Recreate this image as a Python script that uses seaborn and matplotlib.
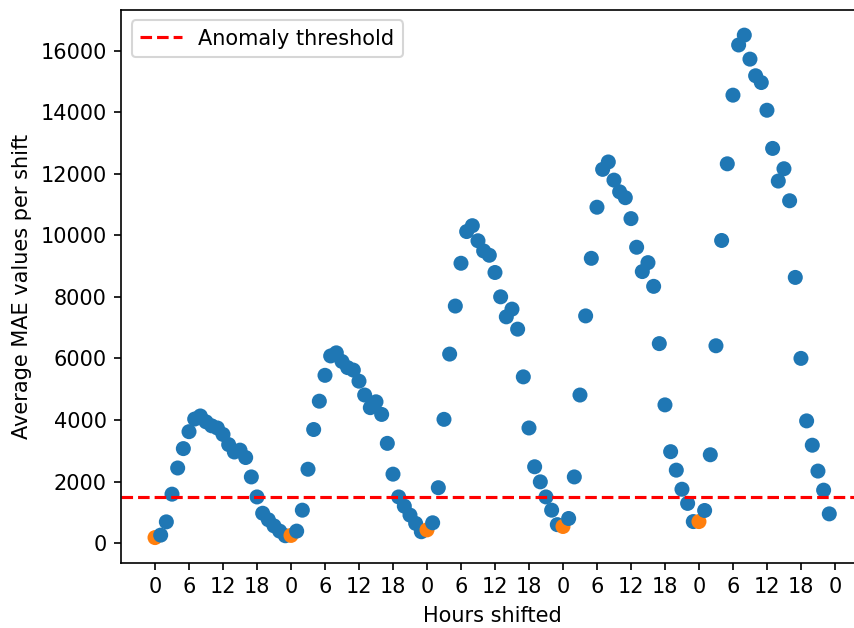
import matplotlib
matplotlib.use("Agg")
import matplotlib.pyplot as plt
import seaborn as sns
import pandas as pd

hours_shifted = list(range(120))
mae_values = [
    180, 260, 690, 1590, 2440, 3070, 3620, 4030, 4130, 3940, 3810, 3740,
    3530, 3200, 2960, 3020, 2780, 2150, 1500, 970, 760, 560, 390, 240,
    250, 390, 1070, 2400, 3690, 4610, 5450, 6080, 6180, 5900, 5700, 5620,
    5260, 4810, 4400, 4590, 4180, 3240, 2240, 1500, 1200, 910, 640, 370,
    430, 660, 1800, 4020, 6140, 7700, 9090, 10120, 10310, 9820, 9490, 9350,
    8790, 8000, 7350, 7600, 6950, 5400, 3740, 2480, 1990, 1500, 1070, 600,
    540, 800, 2150, 4810, 7380, 9250, 10910, 12140, 12380, 11790, 11410, 11220,
    10540, 9610, 8820, 9110, 8340, 6480, 4490, 2970, 2370, 1750, 1290, 700,
    700, 1060, 2870, 6410, 9830, 12320, 14550, 16180, 16500, 15720, 15180, 14960,
    14060, 12820, 11760, 12160, 11120, 8630, 6000, 3970, 3180, 2340, 1720, 950,
]
# points at a whole-day shift (orange) vs others (blue)
whole_day = ["day" if h % 24 == 0 else "other" for h in hours_shifted]
threshold = 1500
tick_positions = list(range(0, 121, 6))
tick_labels = [str(t % 24) for t in tick_positions]

df = pd.DataFrame({"hours": hours_shifted, "mae": mae_values, "kind": whole_day})

DPI = 150
fig = plt.figure(figsize=(854 / DPI, 628 / DPI), dpi=DPI)
ax = fig.add_axes([121.3 / 854, 65.3 / 628, (863 - 121.3) / 854, (562.7 - 10) / 628])

sns.scatterplot(data=df, x="hours", y="mae", hue="kind",
                palette={"other": "#1f77b4", "day": "#ff7f0e"},
                s=52, linewidth=0, legend=False, ax=ax, alpha=1)
ax.axhline(threshold, color="red", linestyle="--", label="Anomaly threshold")
ax.set_xlim(-5.95, 124.95)
ax.set_xticks(tick_positions)
ax.set_xticklabels(tick_labels)
ax.set_xlabel("Hours shifted")
ax.set_ylabel("Average MAE values per shift")
ax.legend(loc="upper left")

fig.savefig("out.png", dpi=DPI)
